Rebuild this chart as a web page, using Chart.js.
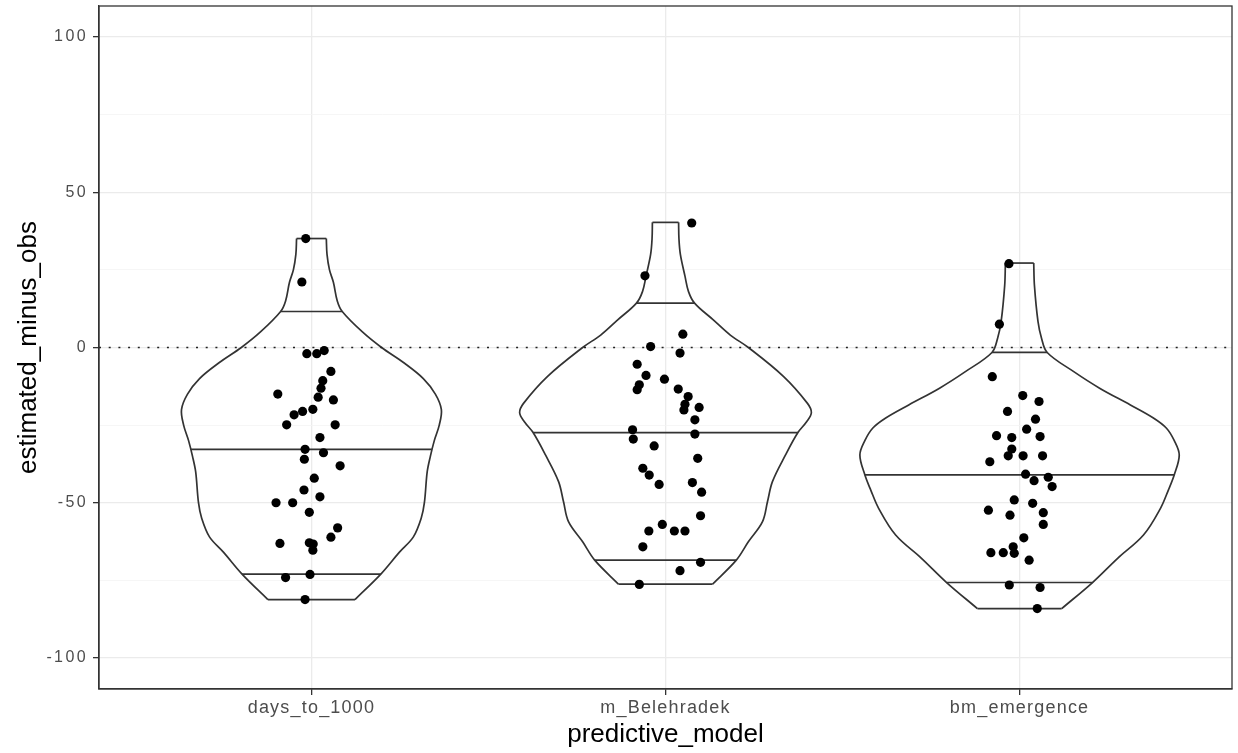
<!DOCTYPE html>
<html>
<head>
<meta charset="utf-8">
<script src="https://cdn.jsdelivr.net/npm/chart.js@4.4.1/dist/chart.umd.min.js"></script>
<style>
  html, body { margin: 0; padding: 0; background: #fff; }
  #wrap { width: 1238px; height: 753px; }
</style>
</head>
<body>
<div id="wrap"><canvas id="myChart"></canvas></div>
<script>
  const categories = ['days_to_1000', 'm_Belehradek', 'bm_emergence'];
  const yTicks = [-100, -75, -50, -25, 0, 25, 50, 75, 100];

  // observed points (estimated_minus_obs) and their jitter along x
  const daysValues = [35.1, 21.1, -2.0, -2.0, -1.0, -7.7, -10.7, -13.1, -16, -16.9, -15.0, -19.9, -20.6, -21.7,
    -24.9, -24.9, -29.0, -32.8, -33.9, -36.0, -38.1, -42.1, -45.9, -48.1, -50.0, -50.0, -53.1, -58.1,
    -61.1, -63.1, -62.9, -63.3, -65.3, -74.1, -73.1, -81.2];
  const daysJitter = [-0.016, -0.027, -0.013, 0.015, 0.036, 0.055, 0.032, 0.027, 0.019, 0.062, -0.095, 0.004, -0.025, -0.049,
    -0.070, 0.067, 0.024, -0.018, 0.034, -0.020, 0.081, 0.008, -0.021, 0.024, -0.100, -0.053, -0.006, 0.074,
    0.055, -0.089, -0.006, 0.005, 0.004, -0.073, -0.004, -0.018];

  const beleValues = [40.1, 23.1, 4.3, 0.3, -1.8, -5.4, -9.0, -10.2, -12.0, -13.6, -13.4, -15.8, -18.3, -19.3,
    -20.1, -23.3, -26.5, -29.5, -27.9, -31.7, -35.7, -38.9, -41.1, -44.1, -43.5, -46.6, -54.2, -57.0,
    -59.1, -59.1, -59.1, -64.2, -69.2, -71.9, -76.3];
  const beleJitter = [0.074, -0.058, 0.049, -0.042, 0.041, -0.080, -0.055, -0.003, -0.074, -0.080, 0.036, 0.064, 0.055, 0.095,
    0.052, 0.083, -0.093, -0.091, 0.083, -0.032, 0.091, -0.064, -0.046, -0.018, 0.076, 0.102, 0.099, -0.009,
    -0.047, 0.025, 0.055, -0.064, 0.099, 0.041, -0.074];

  const bmValues = [27.0, 7.5, -9.4, -15.5, -17.4, -20.6, -23.1, -26.3, -28.4, -29.0, -28.7, -32.7, -34.9, -34.9,
    -34.9, -36.8, -40.8, -42.9, -41.8, -44.8, -49.1, -50.2, -52.4, -54.0, -53.2, -57.0, -61.3, -64.2,
    -66.1, -66.1, -66.3, -68.5, -76.5, -77.3, -84.1];
  const bmJitter = [-0.030, -0.057, -0.077, 0.009, 0.055, -0.034, 0.045, 0.020, -0.065, -0.022, 0.058, -0.022, -0.032, 0.010,
    0.065, -0.084, 0.017, 0.041, 0.081, 0.092, -0.015, 0.037, -0.088, -0.027, 0.067, 0.067, 0.012, -0.018,
    -0.081, -0.046, -0.015, 0.027, -0.029, 0.058, 0.050];

  // violin outlines: y and half width (x units)
  const daysViolinY = [35.1, 30, 25, 21, 15, 11.6, 5, 0, -5, -10, -15, -20, -25, -30, -35, -40, -50, -55, -61, -66, -73, -81.2];
  const daysViolinW = [0.042, 0.044, 0.051, 0.062, 0.073, 0.087, 0.144, 0.198, 0.262, 0.316, 0.350, 0.367, 0.361, 0.347,
    0.336, 0.327, 0.319, 0.310, 0.288, 0.248, 0.196, 0.123];
  const beleViolinY = [40.3, 35, 30, 23, 18, 14.3, 8.9, 4, 0, -9.3, -18, -21, -24, -27.4, -34.6, -43.2, -49.7, -56.1, -62.6, -68.5, -76.2];
  const beleViolinW = [0.037, 0.038, 0.042, 0.055, 0.065, 0.082, 0.135, 0.183, 0.234, 0.333, 0.401, 0.412, 0.398, 0.374,
    0.339, 0.302, 0.288, 0.274, 0.234, 0.200, 0.133];
  const bmViolinY = [27.2, 20, 8.4, 3, -1.6, -7.7, -13.1, -18.5, -22.7, -26, -30, -34.6, -41, -46, -51.8, -60.4, -67.9, -75.7, -84.1];
  const bmViolinW = [0.040, 0.042, 0.052, 0.062, 0.078, 0.152, 0.226, 0.313, 0.378, 0.415, 0.437, 0.451, 0.437, 0.420,
    0.398, 0.350, 0.277, 0.206, 0.119];

  // quantile lines
  const daysQuantY = [11.6, -32.8, -73.0];
  const daysQuantW = [0.087, 0.340, 0.196];
  const beleQuantY = [14.3, -27.4, -68.5];
  const beleQuantW = [0.082, 0.374, 0.200];
  const bmQuantY = [-1.6, -41.0, -75.7];
  const bmQuantW = [0.078, 0.437, 0.206];

  const lineCol = '#333333';

  function line(points, tension) {
    return {
      type: 'line',
      data: points,
      borderColor: lineCol,
      borderWidth: 1.7,
      pointRadius: 0,
      fill: false,
      tension: tension || 0
    };
  }

  function violin(pos, ys, ws, qy, qw) {
    const sets = [];
    sets.push(line(ys.map((y, i) => ({x: pos - ws[i], y: y})), 0.35));
    sets.push(line(ys.map((y, i) => ({x: pos + ws[i], y: y})), 0.35));
    const last = ys.length - 1;
    sets.push(line([{x: pos - ws[0], y: ys[0]}, {x: pos + ws[0], y: ys[0]}]));
    sets.push(line([{x: pos - ws[last], y: ys[last]}, {x: pos + ws[last], y: ys[last]}]));
    qy.forEach((y, i) => sets.push(line([{x: pos - qw[i], y: y}, {x: pos + qw[i], y: y}])));
    return sets;
  }

  function points(pos, vals, jit) {
    return vals.map((v, i) => ({x: pos + jit[i], y: v}));
  }

  const pointSet = {
    type: 'scatter',
    data: [].concat(points(1, daysValues, daysJitter), points(2, beleValues, beleJitter), points(3, bmValues, bmJitter)),
    backgroundColor: '#000',
    borderColor: '#000',
    borderWidth: 0,
    pointRadius: 4.6
  };

  const zeroLine = {
    type: 'line',
    data: [{x: 0.4, y: 0}, {x: 3.6, y: 0}],
    borderColor: '#222',
    borderWidth: 1.6,
    borderDash: [2, 7.7],
    pointRadius: 0
  };

  const datasets = [pointSet, zeroLine].concat(
    violin(1, daysViolinY, daysViolinW, daysQuantY, daysQuantW),
    violin(2, beleViolinY, beleViolinW, beleQuantY, beleQuantW),
    violin(3, bmViolinY, bmViolinW, bmQuantY, bmQuantW)
  );

  const panelBorder = {
    id: 'panelBorder',
    afterDatasetsDraw(chart) {
      const a = chart.chartArea, ctx = chart.ctx;
      ctx.save();
      ctx.strokeStyle = lineCol;
      ctx.lineWidth = 1.3;
      ctx.strokeRect(a.left, a.top, a.right - a.left, a.bottom - a.top);
      ctx.restore();
    }
  };

  // the R output has loosely spaced tick labels; give the small fonts some tracking
  const canvas = document.getElementById('myChart');
  const c2d = canvas.getContext('2d');
  const fontProp = Object.getOwnPropertyDescriptor(CanvasRenderingContext2D.prototype, 'font');
  Object.defineProperty(c2d, 'font', {
    get() { return fontProp.get.call(this); },
    set(v) {
      fontProp.set.call(this, v);
      if ('letterSpacing' in this) {
        this.letterSpacing = /\b16px/.test(v) ? '2.4px' : (/\b18px/.test(v) ? '1.2px' : '0px');
      }
    }
  });

  Chart.defaults.font.family = "'Liberation Sans', Arial, sans-serif";

  const noPad = s => { s.paddingTop = 0; s.paddingBottom = 0; s.paddingLeft = 0; s.paddingRight = 0; };

  const config = {
    type: 'scatter',
    data: {datasets: datasets},
    options: {
      responsive: true,
      maintainAspectRatio: false,
      animation: false,
      layout: {padding: {top: 6, right: 6, left: 0, bottom: 0}},
      plugins: {legend: {display: false}, tooltip: {enabled: false}},
      scales: {
        x: {
          type: 'linear',
          min: 0.4,
          max: 3.6,
          afterBuildTicks: s => { s.ticks = [1, 2, 3].map(v => ({value: v})); },
          afterFit: s => { s.height = 64; noPad(s); },
          ticks: {
            callback: v => categories[v - 1],
            color: '#4d4d4d',
            font: {size: 18},
            padding: 2,
            maxRotation: 0,
            autoSkip: false
          },
          grid: {color: '#ebebeb', lineWidth: 1.3, tickColor: lineCol, tickLength: 6},
          border: {color: lineCol, width: 1.3},
          title: {display: true, text: 'predictive_model', color: '#000', font: {size: 26}, padding: {top: 0, bottom: 3}}
        },
        y: {
          type: 'linear',
          min: -110,
          max: 110,
          afterBuildTicks: s => { s.ticks = yTicks.map(v => ({value: v})); },
          afterFit: s => { s.width = 99; noPad(s); },
          ticks: {
            callback: v => (v % 50 === 0 ? v : ''),
            color: '#4d4d4d',
            font: {size: 16},
            padding: 5
          },
          grid: {
            color: c => (c.tick && c.tick.value % 50 === 0 ? '#ebebeb' : '#f4f4f4'),
            lineWidth: c => (c.tick && c.tick.value % 50 === 0 ? 1.3 : 0.8),
            tickColor: c => (c.tick && c.tick.value % 50 === 0 ? lineCol : 'rgba(0,0,0,0)'),
            tickLength: 6
          },
          border: {color: lineCol, width: 1.3},
          title: {display: true, text: 'estimated_minus_obs', color: '#000', font: {size: 26}, padding: {top: 13, bottom: 0}}
        }
      }
    },
    plugins: [panelBorder]
  };

  const myChart = new Chart(canvas, config);
</script>
</body>
</html>
